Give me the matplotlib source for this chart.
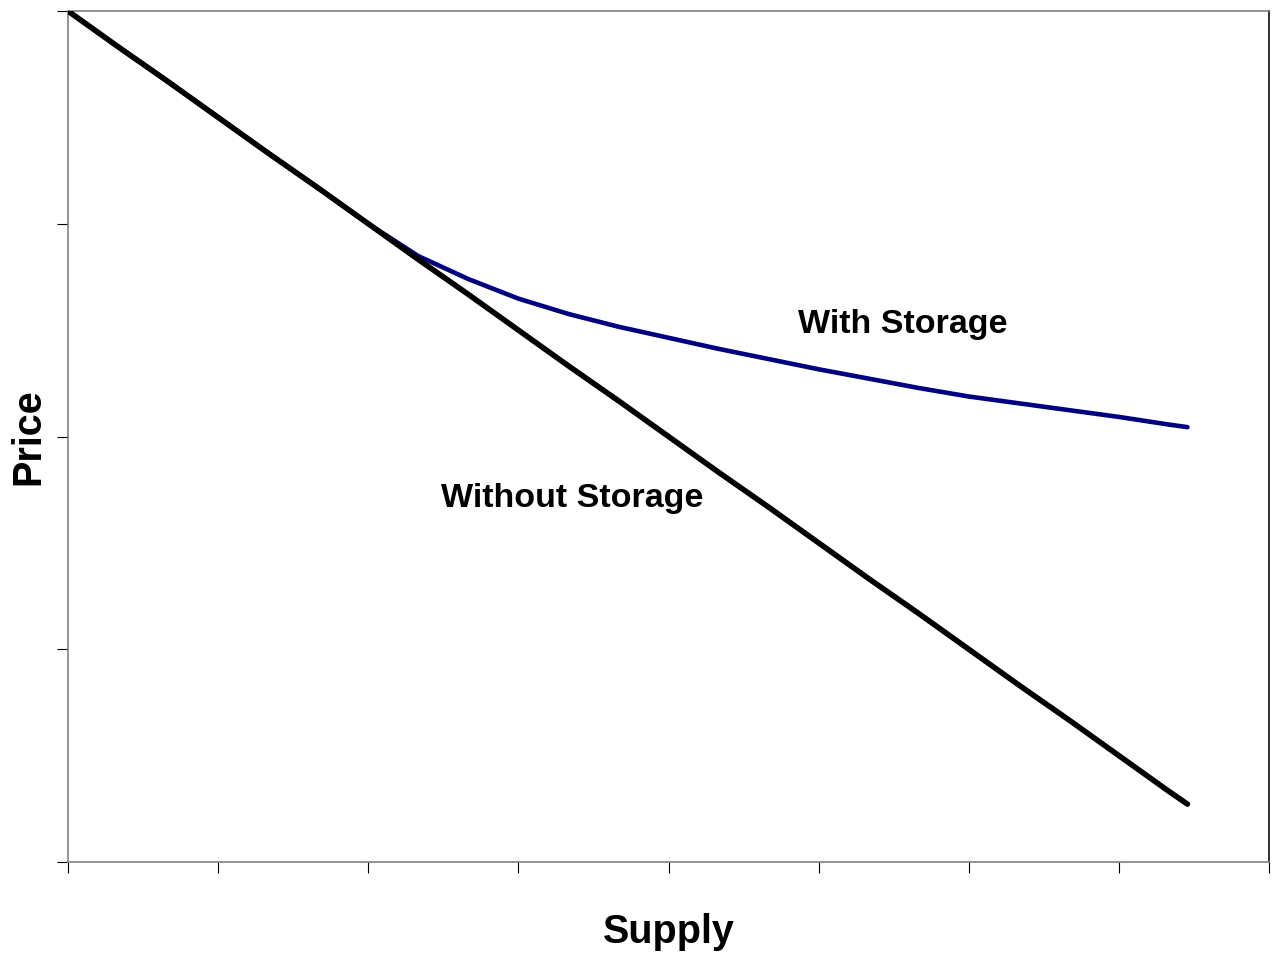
import matplotlib
matplotlib.use('Agg')
import matplotlib.pyplot as plt

# ── Data ──────────────────────────────────────────────────────────────────────

supply = [0, 1, 2, 3, 4, 5, 6, 7, 8, 9, 10, 11, 12, 13, 14, 15, 16,
          17, 18, 19, 20, 21, 22, 22.37]

price_without = [100.0, 95.8, 91.7, 87.5, 83.3, 79.2, 75.0, 70.8, 66.7,
                 62.5, 58.3, 54.2, 50.0, 45.8, 41.7, 37.5, 33.3, 29.2,
                 25.0, 20.8, 16.7, 12.5, 8.3, 6.8]

price_with = [100.0, 95.8, 91.7, 87.5, 83.3, 79.2, 75.0, 71.2, 68.5,
              66.2, 64.4, 62.9, 61.6, 60.3, 59.1, 57.9, 56.8, 55.7,
              54.7, 53.9, 53.1, 52.3, 51.4, 51.1]

x_ticks = [0, 3, 6, 9, 12, 15, 18, 21, 24]
y_ticks = [0, 25, 50, 75, 100]

# ── Figure ────────────────────────────────────────────────────────────────────

plt.rcParams['font.family'] = ['Liberation Sans', 'DejaVu Sans']

fig = plt.figure(figsize=(12.76, 9.58), dpi=100)
ax = fig.add_axes([68 / 1276, 1 - 862 / 958, 1201 / 1276, 851 / 958])

ax.plot(supply, price_with, color='#000080', linewidth=3.3,
        solid_capstyle='round', solid_joinstyle='round', zorder=2)
ax.plot(supply, price_without, color='black', linewidth=4.0,
        solid_capstyle='round', solid_joinstyle='round', zorder=3)

ax.set_xlim(0, 24)
ax.set_ylim(0, 100)
ax.set_xticks(x_ticks)
ax.set_yticks(y_ticks)
ax.set_xticklabels([])
ax.set_yticklabels([])
ax.tick_params(direction='out', length=8, width=0.8, color='black')

for side in ['top', 'left', 'bottom']:
    ax.spines[side].set_color('#808080')
    ax.spines[side].set_linewidth(1.2)
ax.spines['right'].set_color('#303030')
ax.spines['right'].set_linewidth(1.4)

# curve labels
ax.text(16.69, 62.2, "With Storage", fontsize=24.5, fontweight='bold',
        ha='center', va='baseline')
ax.text(10.07, 41.7, "Without Storage", fontsize=24.5, fontweight='bold',
        ha='center', va='baseline')

# axis titles
fig.text(669 / 1276, 1 - 943 / 958, "Supply", fontsize=28.5,
         fontweight='bold', ha='center', va='baseline')
fig.text(28 / 1276, 1 - 437 / 958, "Price", fontsize=28.5,
         fontweight='bold', ha='center', va='center', rotation=90)

fig.savefig("out.png", dpi=100)
